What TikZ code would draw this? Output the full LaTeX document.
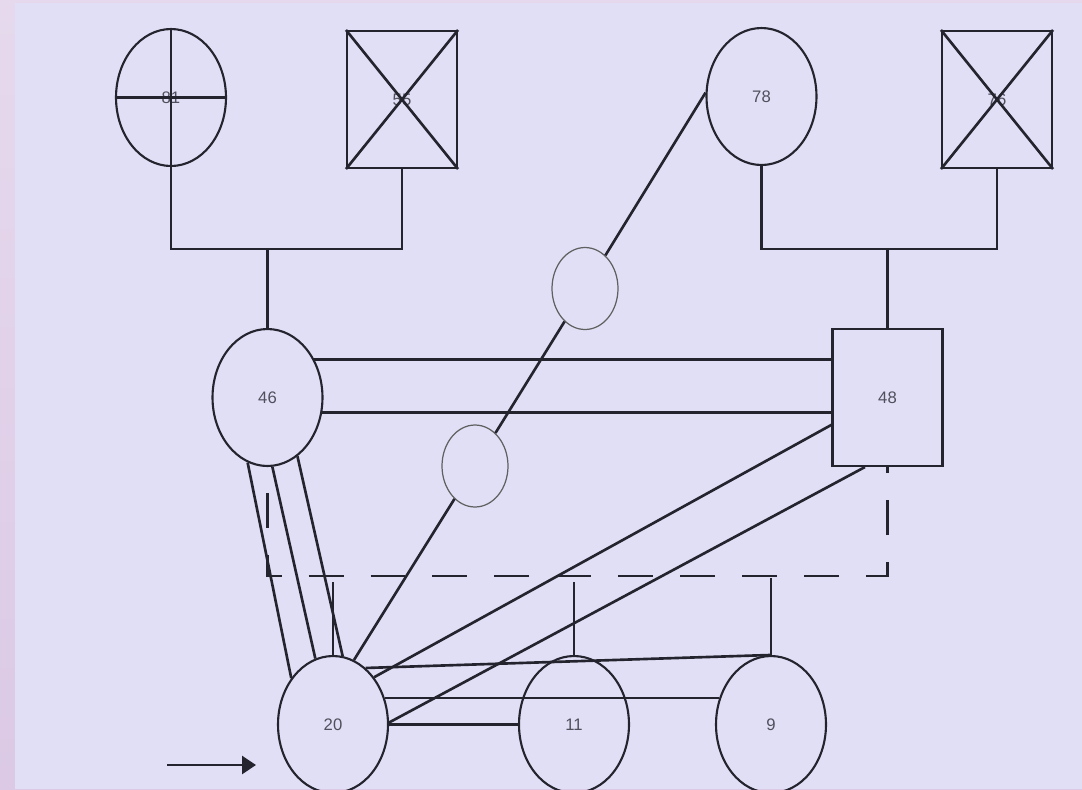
\documentclass[tikz,border=0pt]{standalone}
\usepackage{fontspec}
\setmainfont{Liberation Sans}
\usetikzlibrary{arrows.meta, shapes.geometric}

\definecolor{bgcol}{RGB}{224,223,246}
\definecolor{stripcol}{RGB}{219,201,229}
\definecolor{inkcol}{RGB}{36,36,46}
\definecolor{labelcol}{RGB}{80,80,92}

\begin{document}
\begin{tikzpicture}[x=0.02cm, y=-0.02cm,
		every node/.style={font=\fontsize{9.5}{11}\selectfont, text=labelcol},
		female/.style={ellipse, draw=inkcol, line width=1.2pt, minimum width=2.2cm, minimum height=2.74cm, inner sep=0pt},
		male/.style={rectangle, draw=inkcol, line width=1.2pt, minimum width=2.2cm, minimum height=2.74cm, inner sep=0pt},
		blank/.style={ellipse, draw=gray!75!black, line width=0.7pt, minimum width=1.32cm, minimum height=1.64cm, inner sep=0pt},
		link/.style={draw=inkcol, line width=1.5pt},
		dashlink/.style={link, dash pattern=on 0.7cm off 0.54cm, dash phase=0.72cm}]
			% Background
			\useasboundingbox (0,0) rectangle (1082,789);
			\shade[top color=stripcol!70!white, bottom color=stripcol] (0,0) rectangle (1082,789);
			\fill[bgcol] (15,3) rectangle (1082,789);
			
			% Nodes
			\node[female] (81) at (171,97.5) {81};
			\node[male] (55) at (402,99.5) {55};
			\node[female] (78) at (761.5,96.5) {78};
			\node[male] (76) at (997,99.5) {76};
			\node[female] (46) at (267.5,397.5) {46};
			\node[male] (48) at (887.5,397.5) {48};
			\node[blank] (c1) at (585,288.5) {};
			\node[blank] (c2) at (475,466) {};
			\node[female] (20) at (333,724.5) {20};
			\node[female] (11) at (574,724.5) {11};
			\node[female] (9) at (771,724.5) {9};
			\coordinate (a0) at (167,765);
			\coordinate (a1) at (256,765);
			
			% Crosses
			\draw[link] (81.north) -- (81.south) (81.west) -- (81.east);
			\draw[link] (55.north west) -- (55.south east) (55.south west) -- (55.north east);
			\draw[link] (76.north west) -- (76.south east) (76.south west) -- (76.north east);
			
			% Couples and children
			\draw[link] (81.south) -- (81.south |- 0,249) -- (55.south |- 0,249) -- (55.south);
			\draw[link] (46.north |- 0,249) -- (46.north);
			\draw[link] (78.south) -- (78.south |- 0,249) -- (76.south |- 0,249) -- (76.south);
			\draw[link] (48.north |- 0,249) -- (48.north);
			\draw[dashlink] (46.south) -- (46.south |- 0,576) -- (48.south |- 0,576) -- (48.south);
			\draw[link] (20.north |- 0,582) -- (20.north);
			\draw[link] (11.north |- 0,582) -- (11.north);
			\draw[link] (9.north |- 0,578) -- (9.north);
			
			% Edges
			\draw[link] (46.39) -- (46.39 -| 48.west);
			\draw[link] (46.-15) -- (46.-15 -| 48.west);
			\draw[link] (46.253) -- (20.132);
			\draw[link] (46.274) -- (20.105);
			\draw[link] (46.297) -- (20.82);
			\draw[link] (78.176) -- (c1);
			\draw[link] (c1) -- (c2);
			\draw[link] (c2) -- (20.72);
			\draw[link] (20.49) -- (48.206);
			\draw[link] (20.2) -- (48.252);
			\draw[link] (20.60) -- (9.north);
			\draw[link] (20.27) -- (9.153);
			\draw[link] (20.east) -- (11.west);
			\draw[link, -{Triangle[length=0.28cm, width=0.36cm]}] (a0) -- (a1);
		\end{tikzpicture}
\end{document}
